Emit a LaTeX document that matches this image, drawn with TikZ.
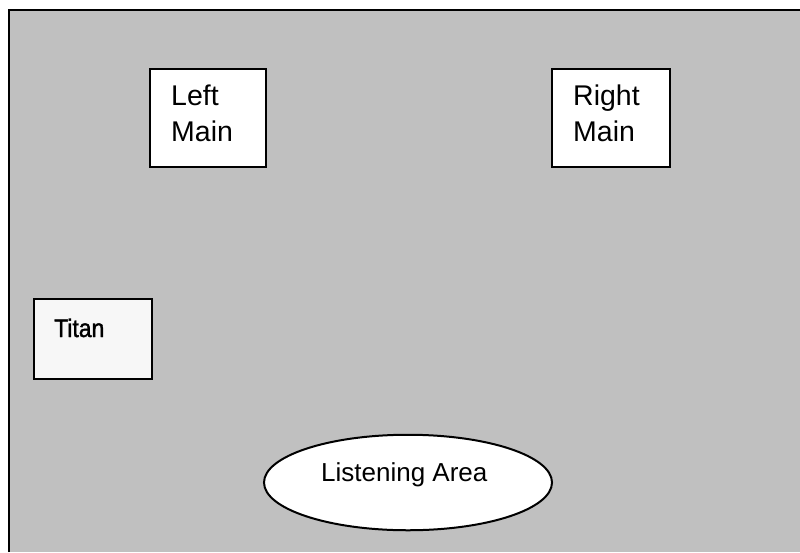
\documentclass[tikz,border=0pt]{standalone}
\usepackage{fontspec}
\setmainfont{Liberation Sans}
\usetikzlibrary{shapes.geometric}
\definecolor{roomgray}{HTML}{C0C0C0}
\definecolor{titanfill}{HTML}{F7F7F7}
\tikzset{
  x=1pt,y=-1pt,
  outline/.style={draw=black,line width=2pt},
  boxshape/.style={outline,fill=white,rectangle,inner sep=0pt,anchor=north west},
  mainlabel/.style={inner sep=0pt,anchor=base west,align=left,font=\fontsize{28.5}{36}\selectfont},
}
\begin{document}
\begin{tikzpicture}
\useasboundingbox (0,0) rectangle (800,552);
\fill[white] (0,0) rectangle (800,552);
\coordinate (roomtl) at (9,10);
\coordinate (roombl) at (9,552);
\coordinate (roomtr) at (800,10);
\coordinate (roombr) at (800,552);
\fill[roomgray] (roomtl) -- (roomtr) -- (roombr) -- (roombl) -- cycle;
\draw[outline] (roombl) -- (roomtl) -- (roomtr);
\node[boxshape,minimum width=116pt,minimum height=97.5pt] (leftbox) at (149.1,68.1) {};
\node[boxshape,minimum width=118pt,minimum height=97.5pt] (rightbox) at (551.1,68.1) {};
\node[boxshape,fill=titanfill,minimum width=118pt,minimum height=80pt] (titanbox) at (33.1,298.1) {};
\node[outline,fill=white,ellipse,inner sep=0pt,minimum width=288pt,minimum height=95.5pt] (listen) at (408,482.5) {};
\node[mainlabel] (leftlabel) at (171,141) {Left\\Main};
\node[mainlabel] (rightlabel) at (573,141) {Right\\Main};
\node[inner sep=0pt,anchor=base west,font=\fontsize{25.5}{28}\selectfont,xscale=.9] (titanlabel) at (54,337) {\addfontfeature{FakeBold=1.6}Titan};
\node[inner sep=0pt,anchor=base west,font=\fontsize{26}{28}\selectfont] (listenlabel) at (321,481) {Listening Area};
\end{tikzpicture}
\end{document}
